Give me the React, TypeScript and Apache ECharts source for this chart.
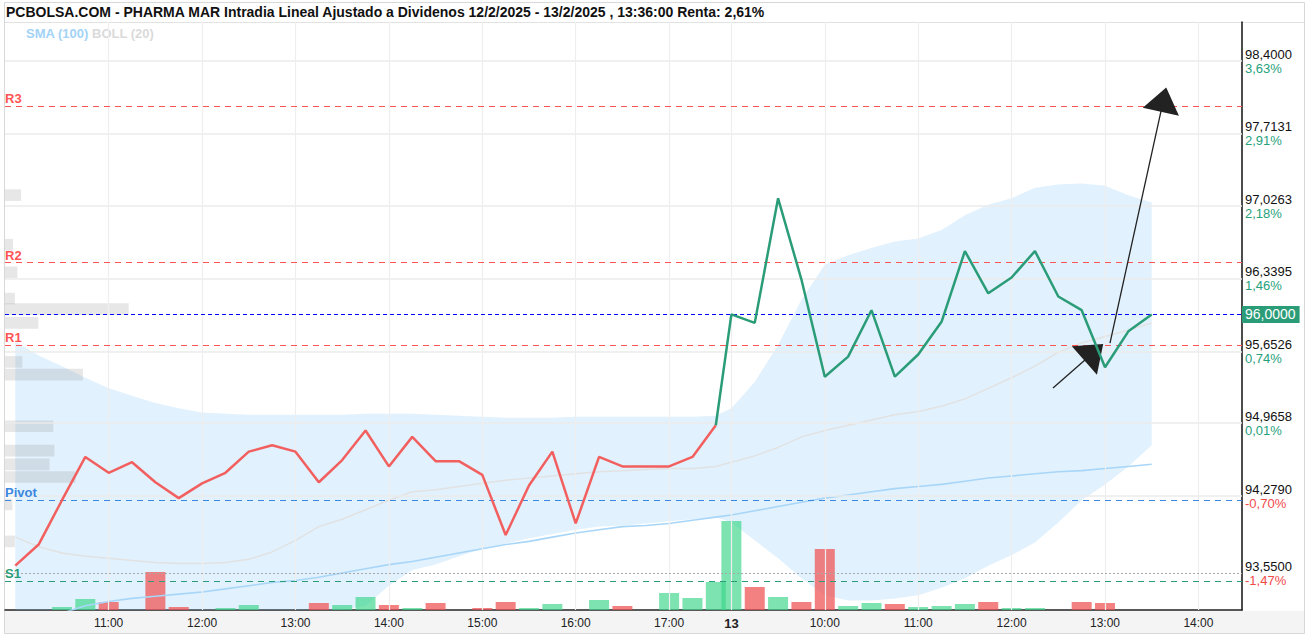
import React, { useEffect, useRef } from "react";
import * as echarts from "echarts";

// ---------------- DATA ----------------
const TITLE =
  "PCBOLSA.COM - PHARMA MAR Intradia Lineal Ajustado a Dividenos 12/2/2025 - 13/2/2025 , 13:36:00 Renta: 2,61%";

const day1Times = [
  "10:00", "10:15", "10:30", "10:45", "11:00", "11:15", "11:30", "11:45", "12:00", "12:15",
  "12:30", "12:45", "13:00", "13:15", "13:30", "13:45", "14:00", "14:15", "14:30", "14:45",
  "15:00", "15:15", "15:30", "15:45", "16:00", "16:15", "16:30", "16:45", "17:00", "17:15", "17:30",
];
const day2Times = [
  "09:00", "09:15", "09:30", "09:45", "10:00", "10:15", "10:30", "10:45", "11:00", "11:15",
  "11:30", "11:45", "12:00", "12:15", "12:30", "12:45", "13:00", "13:15", "13:30",
];

const day1Close = [
  93.62, 93.82, 94.24, 94.65, 94.5, 94.6, 94.41, 94.26, 94.4, 94.5,
  94.7, 94.76, 94.7, 94.41, 94.62, 94.9, 94.56, 94.84, 94.61, 94.61,
  94.48, 93.91, 94.38, 94.7, 94.02, 94.65, 94.56, 94.56, 94.56, 94.65, 94.95,
];
const day2Close = [
  96.0, 95.92, 97.1, 96.33, 95.41, 95.6, 96.04, 95.41, 95.62, 95.93,
  96.6, 96.2, 96.35, 96.6, 96.17, 96.04, 95.5, 95.84, 96.0,
];

// volume in thousands of shares
const day1Volume = [0, 0, 3, 11, 8, 0, 38, 3, 0, 2, 5, 0, 0, 7, 5, 13, 5, 2, 7, 0, 2, 8, 2, 6, 0, 10, 4, 0, 17, 12, 28];
const day2Volume = [89, 23, 13, 8, 61, 4, 7, 6, 3, 4, 6, 8, 2, 2, 0, 8, 7, 0, 0];

const bollUpper = [
  95.74, 95.61, 95.51, 95.4, 95.3, 95.23, 95.16, 95.11, 95.07, 95.06,
  95.05, 95.05, 95.05, 95.05, 95.05, 95.06, 95.06, 95.06, 95.05, 95.04,
  95.03, 95.02, 95.02, 95.02, 95.03, 95.03, 95.03, 95.03, 95.03, 95.03, 95.04,
  95.11, 95.36, 95.71, 96.14, 96.47, 96.56, 96.63, 96.69, 96.72, 96.8,
  96.94, 97.04, 97.1, 97.2, 97.23, 97.24, 97.22, 97.13, 97.06,
];
const bollMid = [
  93.89, 93.8, 93.74, 93.71, 93.69, 93.67, 93.65, 93.64, 93.64, 93.65,
  93.68, 93.75, 93.86, 93.99, 94.06, 94.15, 94.24, 94.32, 94.34, 94.37,
  94.4, 94.43, 94.45, 94.47, 94.49, 94.51, 94.52, 94.53, 94.54, 94.54, 94.56,
  94.6, 94.66, 94.74, 94.84, 94.9, 94.95, 95.0, 95.05, 95.08, 95.13,
  95.2, 95.3, 95.4, 95.51, 95.64, 95.73, 95.79, 95.85, 95.92,
];
const bollLower = [
  92.04, 91.99, 91.97, 92.02, 92.08, 92.11, 92.14, 92.17, 92.21, 92.24,
  92.31, 92.45, 92.67, 92.93, 93.07, 93.24, 93.43, 93.58, 93.63, 93.71,
  93.78, 93.83, 93.88, 93.92, 93.96, 93.99, 94.0, 94.02, 94.04, 94.06, 94.08,
  94.03, 93.86, 93.69, 93.5, 93.34, 93.29, 93.29, 93.31, 93.34, 93.41,
  93.5, 93.62, 93.72, 93.84, 94.03, 94.24, 94.39, 94.56, 94.76,
];
const sma100 = [
  93.06, 93.11, 93.17, 93.24, 93.28, 93.31, 93.33, 93.35, 93.37, 93.4,
  93.43, 93.46, 93.48, 93.51, 93.55, 93.59, 93.63, 93.66, 93.7, 93.74,
  93.78, 93.82, 93.85, 93.89, 93.93, 93.96, 93.99, 94.0, 94.02, 94.05, 94.08,
  94.1, 94.14, 94.18, 94.22, 94.26, 94.29, 94.32, 94.35, 94.37, 94.39,
  94.42, 94.45, 94.47, 94.49, 94.51, 94.52, 94.54, 94.56, 94.58,
];

// volume-by-price profile
const profilePrice = [97.13, 96.66, 96.4, 96.15, 96.05, 95.92, 95.55, 95.43, 94.94, 94.71, 94.58, 94.46, 94.2, 93.85];
const profileVolume = [13, 6.5, 10, 8, 100, 27, 14, 63, 39, 40, 36, 57, 6, 8];
const PROFILE_BUCKET = 0.11;

// pivot levels
const pivotNames = ["R3", "R2", "R1", "Pivot", "S1"];
const pivotValues = [97.974, 96.486, 95.71, 94.241, 93.474];

const lastPrice = 96.0;
const sessionLow = 93.55;

// right axis ticks
const yTicks = [98.4, 97.7131, 97.0263, 96.3395, 95.6526, 94.9658, 94.279, 93.55];
const yTickPct = ["3,63%", "2,91%", "2,18%", "1,46%", "0,74%", "0,01%", "-0,70%", "-1,47%"];

// bottom axis ticks
const xTickDay = [1, 1, 1, 1, 1, 1, 1, 2, 2, 2, 2, 2, 2];
const xTickTime = ["11:00", "12:00", "13:00", "14:00", "15:00", "16:00", "17:00", "09:00", "10:00", "11:00", "12:00", "13:00", "14:00"];
const xTickText = ["11:00", "12:00", "13:00", "14:00", "15:00", "16:00", "17:00", "13", "10:00", "11:00", "12:00", "13:00", "14:00"];

// hand-drawn arrows: [day-axis minutes, price]
const arrowStart = [[666.6, 95.302], [703.2, 95.729]];
const arrowEnd = [[692.8, 95.641], [737.6, 98.035]];
const arrowHead = [[38, 25], [37, 25]];

// ---------------- HELPERS ----------------
const DAY1_OPEN = "10:00";
const DAY2_OPEN = "09:00";
const DAY2_SHIFT = 460;
const toMin = (t: string) => {
  const [h, m] = t.split(":").map(Number);
  return h * 60 + m;
};
const xOf = (day: number, t: string) =>
  day === 1 ? toMin(t) - toMin(DAY1_OPEN) : DAY2_SHIFT + toMin(t) - toMin(DAY2_OPEN);

const FONT = "Liberation Sans";
const RED = "#f25f5f";
const GREEN = "#2b9c78";
const pivotColor: Record<string, string> = {
  R3: "#ff5555",
  R2: "#ff5555",
  R1: "#ff5555",
  Pivot: "#3c87df",
  S1: "#2a9c78",
};

const fmtPrice = (v: number) => v.toFixed(4).replace(".", ",");

function buildOption() {
  const xs = [...day1Times.map((t) => xOf(1, t)), ...day2Times.map((t) => xOf(2, t))];
  const close = [...day1Close, ...day2Close];
  const volume = [...day1Volume, ...day2Volume];
  const tickXs = xTickTime.map((t, i) => xOf(xTickDay[i], t));
  const n1 = day1Times.length;

  const redData = day1Close.map((v, i) => [xs[i], v]);
  const greenData = [[xs[n1 - 1], day1Close[n1 - 1]], ...day2Close.map((v, i) => [xs[n1 + i], v])];

  const volData = volume.map((v, i) => {
    const up = i === 0 ? true : close[i] >= close[i - 1];
    return {
      value: [xs[i], v],
      itemStyle: {
        color: up ? "rgba(62,213,140,0.68)" : "rgba(240,80,80,0.72)",
      },
    };
  });

  const Y_MIN = 93.2;
  const Y_MAX = 98.77;

  return {
    animation: false,
    textStyle: { fontFamily: FONT },
    graphic: [
      {
        type: "rect",
        silent: true,
        z: -10,
        shape: { x: 5, y: 611, width: 1299, height: 22 },
        style: { fill: "#f4f4f4" },
      },
      {
        type: "rect",
        silent: true,
        z: -9,
        shape: { x: 4.5, y: 2.5, width: 1300, height: 631 },
        style: { fill: "none", stroke: "#d8d8d8", lineWidth: 1 },
      },
      {
        type: "line",
        silent: true,
        z: -9,
        shape: { x1: 5, y1: 22.5, x2: 1304, y2: 22.5 },
        style: { stroke: "#e2e2e2", lineWidth: 1 },
      },
      {
        type: "text",
        left: 6,
        top: 5,
        style: { text: TITLE, fill: "#111", font: `bold 14px "${FONT}"` },
      },
      {
        type: "text",
        left: 26,
        top: 27,
        style: { text: "SMA (100)", fill: "#a3d3f6", font: `bold 13px "${FONT}"` },
      },
      {
        type: "text",
        left: 92,
        top: 27,
        style: { text: "BOLL (20)", fill: "#dadada", font: `bold 13px "${FONT}"` },
      },
    ],
    grid: { left: 5, right: 67, top: 22, bottom: 28, containLabel: false },
    xAxis: [
      {
        type: "value",
        min: -6.6,
        max: 788,
        axisLine: { show: true, onZero: false, lineStyle: { color: "#222", width: 1.5 } },
        axisTick: { show: false },
        splitLine: { show: false },
        axisLabel: {
          customValues: tickXs,
          margin: 7,
          color: "#222",
          fontSize: 12,
          formatter: (v: number) => {
            const i = tickXs.findIndex((x) => Math.abs(x - v) < 0.5);
            if (i < 0) return "";
            return xTickDay[i] === 2 && xTickTime[i] === DAY2_OPEN ? `{b|${xTickText[i]}}` : xTickText[i];
          },
          rich: { b: { fontWeight: "bold", fontSize: 13, color: "#222" } },
        },
      },
      { type: "value", min: 0, max: 1000, show: false },
    ],
    yAxis: [
      {
        type: "value",
        position: "right",
        min: Y_MIN,
        max: Y_MAX,
        axisLine: { show: true, onZero: false, lineStyle: { color: "#111", width: 1.5 } },
        axisTick: { show: false },
        splitLine: { show: false },
        axisLabel: {
          customValues: yTicks,
          margin: 3,
          formatter: (v: number) => {
            let bi = 0;
            yTicks.forEach((t, i) => {
              if (Math.abs(t - v) < Math.abs(yTicks[bi] - v)) bi = i;
            });
            const pct = yTickPct[bi];
            const key = pct.startsWith("-") ? "r" : "g";
            return `{p|${fmtPrice(yTicks[bi])}}\n{${key}|${pct}}`;
          },
          rich: {
            p: { color: "#111", fontSize: 13, lineHeight: 14 },
            g: { color: "#26a17b", fontSize: 13, lineHeight: 14 },
            r: { color: "#f04a4a", fontSize: 13, lineHeight: 14 },
          },
        },
      },
      { type: "value", min: 0, max: 588, show: false, axisLine: { onZero: false } },
    ],
    series: [
      // grid lines
      {
        type: "line",
        data: [],
        z: 0,
        silent: true,
        markLine: {
          silent: true,
          symbol: ["none", "none"],
          label: { show: false },
          data: [
            ...yTicks
              .filter((t) => t !== sessionLow)
              .map((t) => ({ yAxis: t, lineStyle: { color: "#ebebeb", width: 1.5, type: "solid" } })),
            ...tickXs.map((x) => ({ xAxis: x, lineStyle: { color: "#eeeeee", width: 1.2, type: "solid" } })),
          ],
        },
      },
      // bollinger band fill
      {
        type: "custom",
        silent: true,
        z: 1,
        data: [[xs[0], bollUpper[0]]],
        renderItem: (_p: any, api: any) => {
          const clampY = (v: number) => Math.max(Y_MIN, Math.min(Y_MAX, v));
          const upper = xs.map((x, i) => api.coord([x, clampY(bollUpper[i])]));
          const lower = xs.map((x, i) => api.coord([x, clampY(bollLower[i])])).reverse();
          return {
            type: "polygon",
            shape: { points: [...upper, ...lower] },
            style: { fill: "rgba(120,190,245,0.22)" },
          };
        },
      },
      // volume profile
      {
        type: "custom",
        silent: true,
        z: 1,
        xAxisIndex: 1,
        yAxisIndex: 0,
        data: profilePrice.map((p, i) => [profileVolume[i], p]),
        renderItem: (_p: any, api: any) => {
          const v = api.value(0);
          const p = api.value(1);
          const a = api.coord([0, p + PROFILE_BUCKET / 2]);
          const b = api.coord([v, p - PROFILE_BUCKET / 2]);
          return {
            type: "rect",
            shape: { x: a[0], y: a[1], width: b[0] - a[0], height: b[1] - a[1] },
            style: { fill: "rgba(160,160,160,0.25)" },
          };
        },
      },
      // volume bars
      {
        type: "bar",
        xAxisIndex: 0,
        yAxisIndex: 1,
        barWidth: 20,
        z: 2,
        silent: true,
        data: volData,
      },
      // bollinger middle
      {
        type: "line",
        z: 3,
        symbol: "none",
        silent: true,
        data: xs.map((x, i) => [x, bollMid[i]]),
        lineStyle: { color: "#e2e2e2", width: 1.5 },
      },
      // SMA 100
      {
        type: "line",
        z: 3,
        symbol: "none",
        silent: true,
        data: xs.map((x, i) => [x, sma100[i]]),
        lineStyle: { color: "#a8d6f8", width: 1.6 },
      },
      // pivot levels + current / low lines
      {
        type: "line",
        data: [],
        z: 4,
        silent: true,
        markLine: {
          silent: true,
          symbol: ["none", "none"],
          data: [
            ...pivotNames.map((name, i) => ({
              yAxis: pivotValues[i],
              lineStyle: { color: pivotColor[name], width: 1.2, type: [6, 5] },
              label: {
                show: true,
                position: "insideStartTop",
                formatter: name,
                color: pivotColor[name],
                fontSize: 13,
                fontWeight: "bold",
                distance: [0, 1],
              },
            })),
            {
              yAxis: sessionLow,
              lineStyle: { color: "#a8a8a8", width: 1, type: [2, 2] },
              label: { show: false },
            },
            {
              yAxis: lastPrice,
              lineStyle: { color: "#0000ff", width: 1.2, type: [4, 3] },
              label: {
                show: true,
                position: "end",
                distance: 0,
                formatter: fmtPrice(lastPrice),
                color: "#fff",
                backgroundColor: "#2b9c78",
                padding: [2, 4, 1, 3],
                fontSize: 14,
              },
            },
          ],
        },
      },
      // price line (day 1)
      {
        type: "line",
        z: 5,
        symbol: "none",
        silent: true,
        data: redData,
        lineStyle: { color: RED, width: 2.5 },
      },
      // price line (day 2)
      {
        type: "line",
        z: 5,
        symbol: "none",
        silent: true,
        data: greenData,
        lineStyle: { color: GREEN, width: 2.5 },
      },
      // arrows
      {
        type: "line",
        data: [],
        z: 6,
        silent: true,
        markLine: {
          silent: true,
          label: { show: false },
          data: arrowStart.map((s, i) => [
            { coord: s, symbol: "none" },
            { coord: arrowEnd[i], symbol: "triangle", symbolSize: arrowHead[i] },
          ]),
          lineStyle: { color: "#222", width: 1.3, type: "solid" },
        },
      },
    ],
  };
}

export default function App() {
  const ref = useRef<HTMLDivElement>(null);
  useEffect(() => {
    if (!ref.current) return;
    const chart = echarts.init(ref.current, null, { renderer: "svg" });
    chart.setOption(buildOption() as any);
    return () => chart.dispose();
  }, []);
  return (
    <div
      ref={ref}
      style={{ position: "fixed", left: 0, top: 0, width: 1309, height: 638, background: "#fff" }}
    />
  );
}
